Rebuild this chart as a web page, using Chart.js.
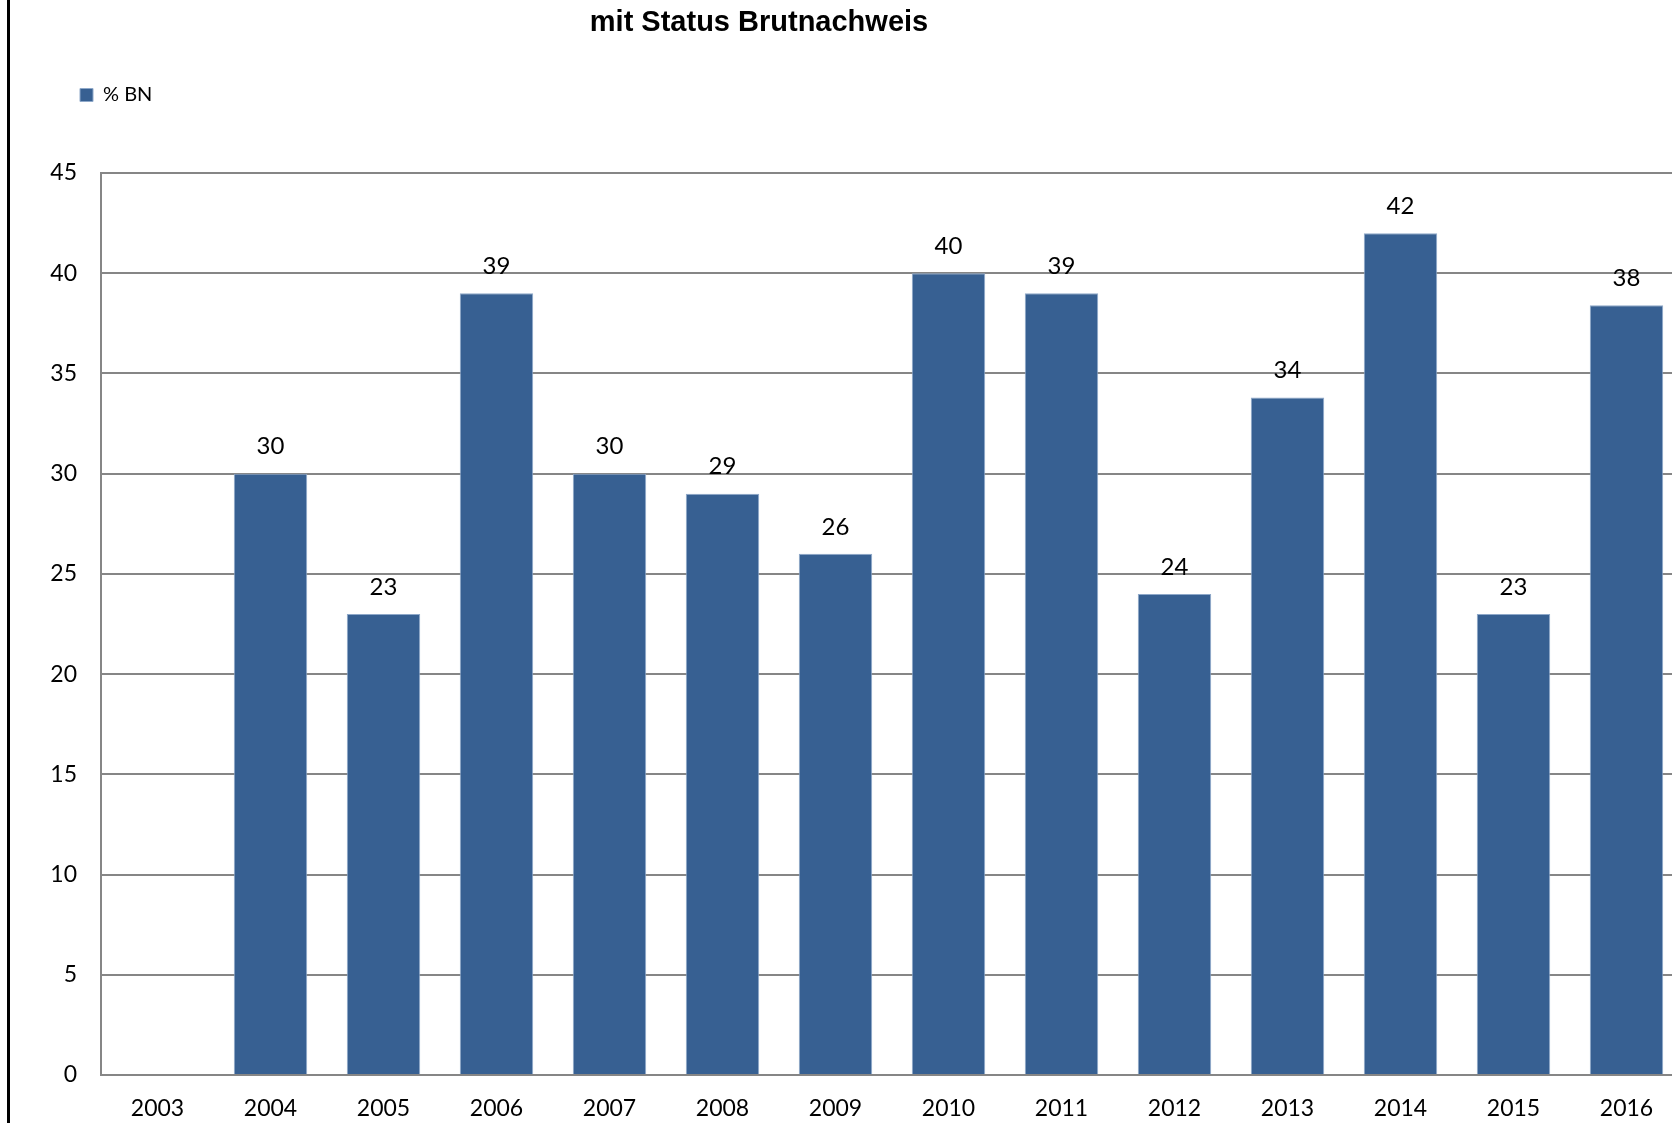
<!DOCTYPE html>
<html>
<head>
<meta charset="utf-8">
<script src="https://cdn.jsdelivr.net/npm/chart.js@4.4.0/dist/chart.umd.min.js"></script>
<style>
  html, body { margin: 0; padding: 0; overflow: hidden; background: #fff; }
  #wrap { position: relative; width: 1672px; height: 1123px; overflow: hidden; }
  #edge { position: absolute; left: 7px; top: 0; width: 3px; height: 1123px; background: #000; }
  canvas { position: absolute; left: 0; top: 0; }
</style>
</head>
<body>
<div id="wrap">
  <canvas id="canvas" width="1690" height="1123"></canvas>
  <div id="edge"></div>
</div>
<script>
var jahre = ["2003","2004","2005","2006","2007","2008","2009","2010","2011","2012","2013","2014","2015","2016"];
var prozentBN = [null, 30, 23, 39, 30, 29, 26, 40, 39, 24, 33.8, 42, 23, 38.4];
var serienName = "% BN";
var titelZeile = "mit Status Brutnachweis";
var yMax = 45;
var yStep = 5;

var blau = "#376092";
var schrift = "Lato, 'Open Sans', sans-serif";

// Titel (nur die sichtbare zweite Zeile)
var titelPlugin = {
	id: "titel",
	afterDraw: function(chart){
		var ctx = chart.ctx;
		ctx.save();
		ctx.font = "bold 29px 'Liberation Sans', Arial, sans-serif";
		ctx.fillStyle = "#000";
		ctx.textAlign = "center";
		ctx.textBaseline = "middle";
		ctx.fillText(titelZeile, 759, 23);
		ctx.restore();
	}
};

// Werte ueber den Balken
var wertePlugin = {
	id: "werte",
	afterDatasetsDraw: function(chart){
		var ctx = chart.ctx;
		var meta = chart.getDatasetMeta(0);
		ctx.save();
		ctx.font = "24px " + schrift;
		ctx.fillStyle = "#000";
		ctx.textAlign = "center";
		ctx.textBaseline = "middle";
		meta.data.forEach(function(bar, i){
			var v = prozentBN[i];
			if (v === null) return;
			ctx.fillText(Math.round(v), bar.x, bar.y - 27);
		});
		ctx.restore();
	}
};

// Legende etwas nach rechts, Abstand zum Diagramm
var legendeLage = {
	id: "legendeLage",
	beforeInit: function(chart){
		var fit = chart.legend.fit;
		chart.legend.fit = function(){
			fit.bind(chart.legend)();
			this.height += 58;
		};
	},
	afterLayout: function(chart){
		chart.legend.left = 70;
	}
};

var ctx = document.getElementById("canvas").getContext("2d");

var chartdata = {
	labels: jahre,
	datasets: [
		{
			label: serienName,
			data: prozentBN,
			backgroundColor: blau,
			borderColor: "#8ea8c9",
			borderWidth: 1,
			barPercentage: 0.65,
			categoryPercentage: 1.0
		}
	]
};

var BarGraph = new Chart(ctx, {
	type: "bar",
	data: chartdata,
	plugins: [titelPlugin, wertePlugin, legendeLage],
	options: {
		responsive: false,
		animation: false,
		layout: { padding: { top: 75, left: 0, right: 7, bottom: 0 } },
		plugins: {
			legend: {
				position: "top",
				align: "start",
				labels: {
					boxWidth: 13,
					boxHeight: 13,
					padding: 10,
					color: "#000",
					font: { size: 20, family: schrift }
				}
			},
			title: { display: false },
			tooltip: { enabled: false }
		},
		scales: {
			x: {
				afterFit: function(scale){ scale.height = 48; },
				grid: { display: false, drawTicks: false },
				border: { display: true, color: "#868686", width: 2 },
				ticks: {
					color: "#000",
					padding: 20,
					maxRotation: 0,
					autoSkip: false,
					font: { size: 23, family: schrift }
				}
			},
			y: {
				min: 0,
				max: yMax,
				afterFit: function(scale){ scale.width = 101; },
				grid: { color: "#868686", lineWidth: 2, drawTicks: false },
				border: { display: true, color: "#868686", width: 2 },
				ticks: {
					stepSize: yStep,
					color: "#000",
					padding: 24,
					font: { size: 23, family: schrift }
				}
			}
		}
	}
});
</script>
</body>
</html>
